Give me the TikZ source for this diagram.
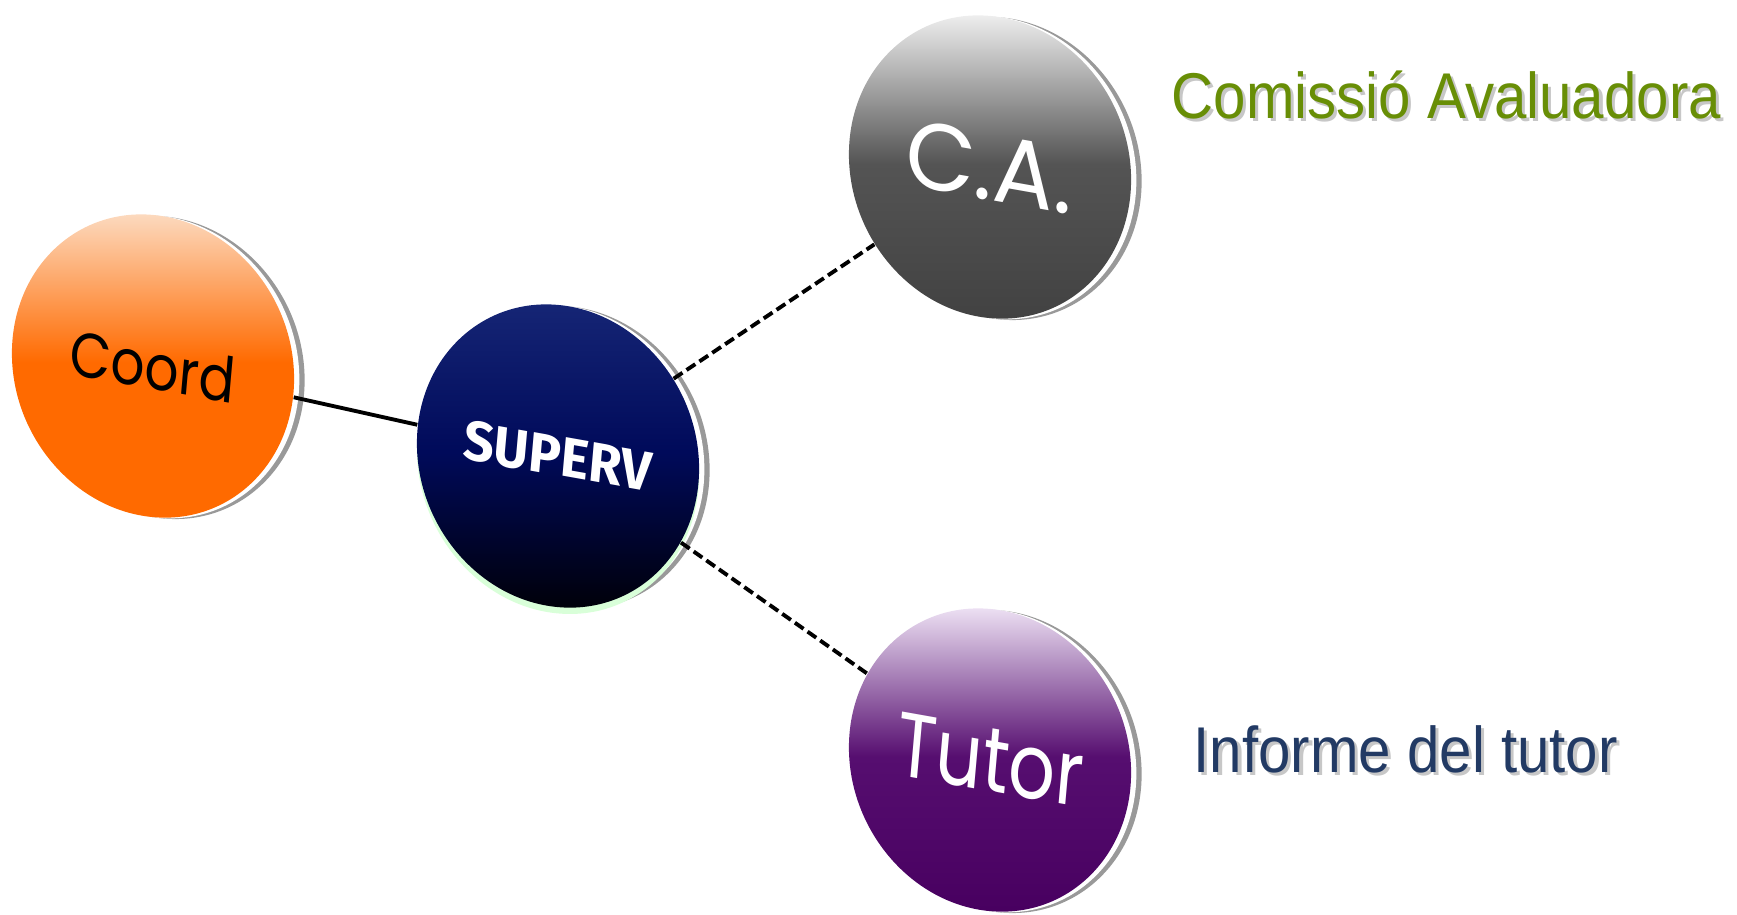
\documentclass[tikz,border=0pt]{standalone}
\usepackage{fontspec}
\usepackage{graphicx}
\setmainfont{Liberation Sans}
\newfontfamily\discfont{Poppins}
\newfontfamily\supfont{Fira Sans}
\usetikzlibrary{shapes.geometric,shadows}
\definecolor{coordorange}{RGB}{255,106,0}
\definecolor{coordpeach}{RGB}{252,222,198}
\definecolor{supnavy}{RGB}{22,38,118}
\definecolor{supmid}{RGB}{0,10,90}
\definecolor{supdark}{RGB}{0,0,10}
\definecolor{calight}{RGB}{244,244,244}
\definecolor{camid}{RGB}{84,84,84}
\definecolor{cadark}{RGB}{66,66,66}
\definecolor{tutlight}{RGB}{242,232,248}
\definecolor{tutmid}{RGB}{86,14,112}
\definecolor{tutdark}{RGB}{72,0,96}
\definecolor{cagreen}{RGB}{104,142,6}
\definecolor{infblue}{RGB}{34,58,100}
\newcommand{\shtext}[2]{\leavevmode\rlap{\hspace{1pt}\raisebox{-1pt}{\color{black!22}#2}}{\color{#1}#2}}
\newcommand{\disctext}[3]{\makebox[0pt]{\rotatebox{-5}{\scalebox{#1}[1]{\fontsize{#2}{#2}\selectfont #3}}}}
\begin{document}
\begin{tikzpicture}[x=0.01cm,y=-0.01cm,
    disc/.style={ellipse,minimum width=2.82cm,minimum height=3.02cm,inner sep=0pt,
      yslant=-0.09,transform shape,
      general shadow={fill=black!40,shadow xshift=3pt,shadow yshift=-0.4pt},
      general shadow={fill=white,shadow xshift=1.5pt,shadow yshift=-0.2pt}},
    link/.style={line width=1.1pt,black},
    dlink/.style={link,dash pattern=on 3pt off 1.4pt},
    note/.style={anchor=base west,inner sep=0pt,font=\fontsize{18.4}{22}\selectfont}]
  \useasboundingbox (0,0) rectangle (1737,914);
  \node[disc,top color=coordpeach,bottom color=coordorange,middle color=coordorange]
    (coord) at (153,366) {\discfont\disctext{0.84}{18}{Coord}};
  \node[disc,general shadow={fill=green!15,shadow yshift=-1.8pt},
    top color=supnavy,bottom color=supdark,middle color=supmid]
    (superv) at (558,456) {\color{white}\supfont\bfseries\disctext{0.95}{16}{SUPERV}};
  \node[disc,top color=calight,bottom color=cadark,middle color=camid]
    (ca) at (990,167) {\color{white}\discfont\disctext{0.95}{27}{C.A.}};
  \node[disc,top color=tutlight,bottom color=tutdark,middle color=tutmid]
    (tutor) at (990,760) {\color{white}\discfont\disctext{0.8}{26}{Tutor}};
  \draw[link] (coord) -- (superv);
  \draw[dlink] (superv) -- (ca);
  \draw[dlink] (superv) -- (tutor);
  \node[note] (cadesc) at (1171,118) {\scalebox{0.9}[1]{\shtext{cagreen}{Comissió Avaluadora}}};
  \node[note] (tutdesc) at (1193,772) {\scalebox{0.9}[1]{\shtext{infblue}{Informe del tutor}}};
\end{tikzpicture}
\end{document}
